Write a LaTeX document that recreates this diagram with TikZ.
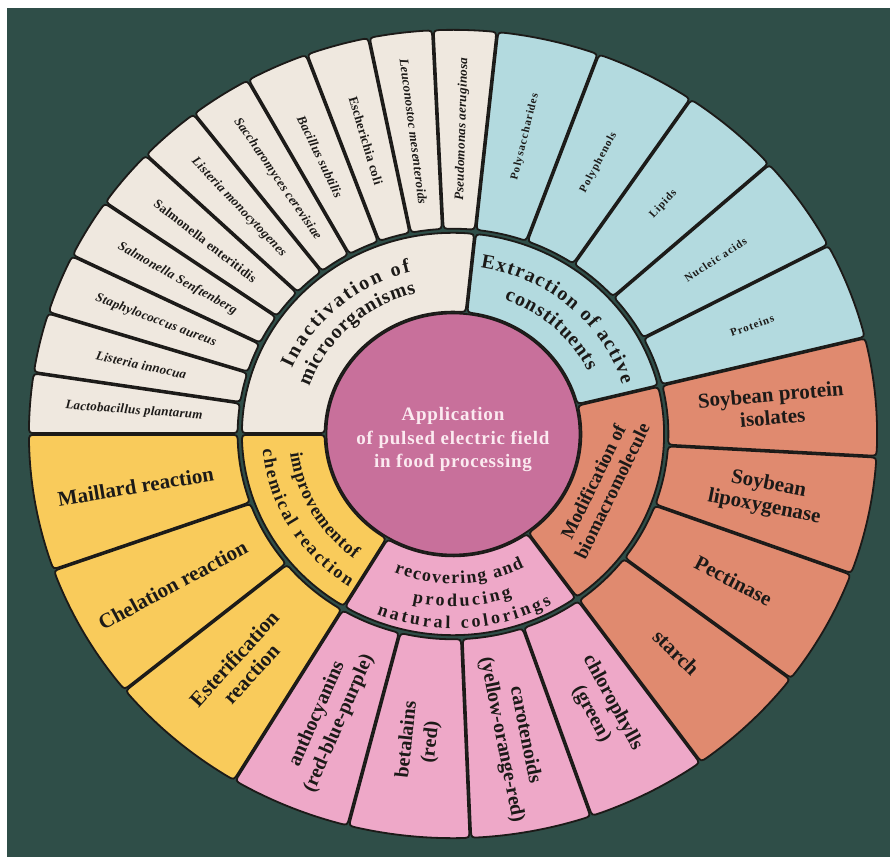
\documentclass[tikz,border=0pt]{standalone}
\usepackage{fontspec}
\setmainfont{Liberation Serif}
\newfontfamily\tightserif[LetterSpace=2]{Liberation Serif}
\newfontfamily\looseserif[LetterSpace=9]{Liberation Serif}
\newfontfamily\hubserif[LetterSpace=4]{Liberation Serif}
\usetikzlibrary{decorations.text}

\definecolor{bggreen}{HTML}{2F4E48}
\definecolor{creamcell}{HTML}{EFE8DF}
\definecolor{bluecell}{HTML}{B3DADF}
\definecolor{salmoncell}{HTML}{E08A6F}
\definecolor{pinkcell}{HTML}{EEA8C8}
\definecolor{yellowcell}{HTML}{F9CB5B}
\definecolor{hubcolor}{HTML}{C8709B}
\definecolor{inkcolor}{HTML}{1C1A18}
\definecolor{hubtext}{HTML}{FBEAF0}

% vertical squash of the wheel, half gap between neighbouring cells, corner radius
\def\squash{0.953}
\def\cellgap{0.9}
\def\cornr{8}

% annular cell with rounded corners:
% fill colour, start angle, end angle, inner radius, outer radius
\newcommand\wedgecell[5]{%
  \pgfmathsetmacro\wri{#4+\cellgap}%
  \pgfmathsetmacro\wro{#5-\cellgap}%
  \pgfmathsetmacro\wai{#2+asin(\cellgap/\wri)}%
  \pgfmathsetmacro\wbi{#3-asin(\cellgap/\wri)}%
  \pgfmathsetmacro\wao{#2+asin(\cellgap/\wro)}%
  \pgfmathsetmacro\wbo{#3-asin(\cellgap/\wro)}%
  \pgfmathsetmacro\wrip{\wri+\cornr}%
  \pgfmathsetmacro\wrom{\wro-\cornr}%
  \pgfmathsetmacro\waip{#2+asin(\cellgap/\wrip)}%
  \pgfmathsetmacro\wbip{#3-asin(\cellgap/\wrip)}%
  \pgfmathsetmacro\waom{#2+asin(\cellgap/\wrom)}%
  \pgfmathsetmacro\wbom{#3-asin(\cellgap/\wrom)}%
  \pgfmathsetmacro\waoo{\wao+deg(\cornr/\wro)}%
  \pgfmathsetmacro\wboo{\wbo-deg(\cornr/\wro)}%
  \pgfmathsetmacro\waii{\wai+deg(\cornr/\wri)}%
  \pgfmathsetmacro\wbii{\wbi-deg(\cornr/\wri)}%
  \draw[cellline, fill=#1]
    (\waip:\wrip) -- (\waom:\wrom)
    .. controls (\wao:\wro) .. (\waoo:\wro)
    arc[start angle=\waoo, end angle=\wboo, radius=\wro]
    .. controls (\wbo:\wro) .. (\wbom:\wrom)
    -- (\wbip:\wrip)
    .. controls (\wbi:\wri) .. (\wbii:\wri)
    arc[start angle=\wbii, end angle=\waii, radius=\wri]
    .. controls (\wai:\wri) .. (\waip:\wrip) -- cycle;%
}

% radial label: name, mid angle, radius, extra turn, style, text
\newcommand\spokelabel[6]{%
  \pgfmathsetmacro\spokerot{atan2(\squash*sin(#2),cos(#2))+#4}%
  \node[#5, rotate=\spokerot] (#1) at (#2:#3) {#6};%
}

% curved label: font, start angle, end angle, baseline radius, text
\newcommand\arctext[5]{%
  \path[decorate, decoration={text along path, text color=inkcolor,
      text align={fit to path}, text={|#1|#5}}]
    (#2:#4) arc[start angle=#2, end angle=#3, radius=#4];%
}
\newcommand\arcfontA{\bfseries\fontsize{20}{22}\selectfont}
\newcommand\arcfontB{\bfseries\fontsize{18}{20}\selectfont}

\tikzset{
  cellline/.style={draw=inkcolor, line width=1.8pt, line join=round},
  tagbase/.style={text=inkcolor, align=center, inner sep=0pt},
  microbe/.style={tagbase, font=\tightserif\bfseries\itshape\fontsize{13}{15}\selectfont},
  microbeup/.style={tagbase, font=\tightserif\bfseries\fontsize{13}{15}\selectfont},
  extract/.style={tagbase, font=\looseserif\bfseries\fontsize{11}{13}\selectfont},
  bigtag/.style={tagbase, font=\bfseries\fontsize{21}{23}\selectfont},
  colortag/.style={tagbase, font=\bfseries\fontsize{20}{24}\selectfont},
  modtag/.style={tagbase, font=\bfseries\fontsize{19}{21}\selectfont},
  hubtag/.style={text=hubtext, align=center, inner sep=0pt,
    font=\hubserif\bfseries\fontsize{19}{23.5}\selectfont},
}

\begin{document}
\begin{tikzpicture}[x=1pt, y=1pt]
\path[use as bounding box] (0,0) rectangle (890,857);
\fill[white] (0,0) rectangle (890,857);
\fill[bggreen] (7,0) rectangle (890,849);

\begin{scope}[shift={(453,423)}, yscale=\squash]

% ---------- inner ring ----------
\wedgecell{creamcell}{84}{180}{127.5}{212}
\wedgecell{bluecell}{13.8}{84}{127.5}{212}
\wedgecell{salmoncell}{-54.3}{13.8}{127.5}{212}
\wedgecell{pinkcell}{-121}{-54.3}{127.5}{212}
\wedgecell{yellowcell}{-180}{-121}{127.5}{212}

% ---------- outer ring: microorganisms ----------
\foreach \k/\nm/\txt/\sty/\flip in {
  0/lacto/Lactobacillus plantarum/microbe/180,
  1/linnoc/Listeria innocua/microbe/180,
  2/staph/Staphylococcus aureus/microbe/180,
  3/salsen/Salmonella Senftenberg/microbe/180,
  4/salent/Salmonella enteritidis/microbeup/180,
  5/lmono/Listeria monocytogenes/microbe/180,
  6/sacch/Saccharomyces cerevisiae/microbe/180,
  7/bacil/Bacillus subtilis/microbe/180,
  8/ecoli/Escherichia coli/microbeup/180,
  9/leuco/Leuconostoc mesenteroids/microbe/180,
  10/pseudo/Pseudomonas aeruginosa/microbe/0}{
  \pgfmathsetmacro\aend{180-\k*96/11}
  \pgfmathsetmacro\astart{\aend-96/11}
  \pgfmathsetmacro\amid{\aend-48/11}
  \wedgecell{creamcell}{\astart}{\aend}{214.5}{425}
  \spokelabel{\nm}{\amid}{320}{\flip}{\sty}{\txt}
}

% ---------- outer ring: active constituents ----------
\foreach \k/\nm/\txt in {
  0/polysac/Polysaccharides,
  1/polyphe/Polyphenols,
  2/lipids/Lipids,
  3/nucleic/Nucleic acids,
  4/proteins/Proteins}{
  \pgfmathsetmacro\aend{84-\k*70.2/5}
  \pgfmathsetmacro\astart{\aend-70.2/5}
  \pgfmathsetmacro\amid{\aend-35.1/5}
  \wedgecell{bluecell}{\astart}{\aend}{214.5}{425}
  \spokelabel{\nm}{\amid}{320}{0}{extract}{\txt}
}

% ---------- outer ring: biomacromolecules ----------
\foreach \k/\nm/\txt in {
  0/soyiso/{Soybean protein\\isolates},
  1/soylox/{Soybean\\lipoxygenase},
  2/pectin/Pectinase,
  3/starch/starch}{
  \pgfmathsetmacro\aend{13.8-\k*68.1/4}
  \pgfmathsetmacro\astart{\aend-68.1/4}
  \pgfmathsetmacro\amid{\aend-34.05/4}
  \wedgecell{salmoncell}{\astart}{\aend}{214.5}{425}
  \spokelabel{\nm}{\amid}{320}{0}{bigtag}{\txt}
}

% ---------- outer ring: natural colourings ----------
\foreach \k/\nm/\txt/\flip in {
  0/chloro/{chlorophylls\\(green)}/0,
  1/carot/{carotenoids\\(yellow-orange-red)}/0,
  2/betal/{betalains\\(red)}/180,
  3/antho/{anthocyanins\\(red-blue-purple)}/180}{
  \pgfmathsetmacro\aend{-54.3-\k*66.7/4}
  \pgfmathsetmacro\astart{\aend-66.7/4}
  \pgfmathsetmacro\amid{\aend-33.35/4}
  \wedgecell{pinkcell}{\astart}{\aend}{214.5}{425}
  \spokelabel{\nm}{\amid}{324}{\flip}{colortag}{\txt}
}

% ---------- outer ring: chemical reactions ----------
\foreach \k/\nm/\txt in {
  0/ester/{Esterification\\reaction},
  1/chelat/Chelation reaction,
  2/maill/Maillard reaction}{
  \pgfmathsetmacro\astart{-121-(\k+1)*59/3}
  \pgfmathsetmacro\aend{-121-\k*59/3}
  \pgfmathsetmacro\amid{-121-(\k+0.5)*59/3}
  \wedgecell{yellowcell}{\astart}{\aend}{214.5}{425}
  \spokelabel{\nm}{\amid}{322}{180}{bigtag}{\txt}
}

% ---------- hub ----------
\draw[draw=inkcolor, line width=1.8pt, fill=hubcolor] (0,0) circle[radius=126.5];
\node[hubtag] (hub) at (0,-6) {Application\\of pulsed electric field\\in food processing};

% ---------- inner ring labels ----------
\arctext{\arcfontA}{157}{104}{175}{Inactivation of}
\arctext{\arcfontA}{161}{104}{152}{microorganisms}
\arctext{\arcfontA}{81}{17}{177}{Extraction of active}
\arctext{\arcfontA}{70}{26}{150}{constituents}
\arctext{\arcfontB}{-112}{-63}{157}{recovering and}
\arctext{\arcfontB}{-103}{-71}{181}{producing}
\arctext{\arcfontB}{-112}{-61}{204}{natural colorings}
\arctext{\arcfontB}{-173}{-127}{164}{improvementof}
\arctext{\arcfontB}{-175}{-123}{191}{chemical reaction}
\node[modtag, rotate=64] (modif) at (149.5,-55.1) {Modification of\\biomacromolecule};

\end{scope}
\end{tikzpicture}
\end{document}
